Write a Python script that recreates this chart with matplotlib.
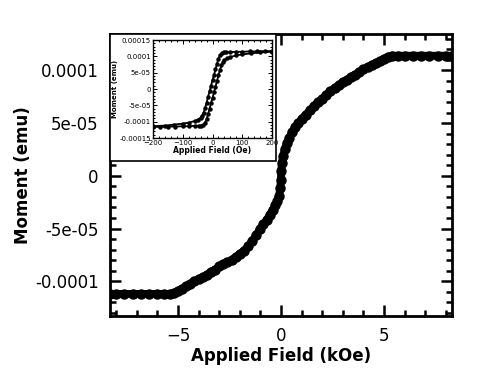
import numpy as np
import matplotlib.pyplot as plt
from matplotlib.ticker import MultipleLocator, FixedFormatter, FixedLocator
from matplotlib.patches import Rectangle

# main loop, field in kOe, moment in 1e-4 emu
field_main = [-8.3, -8.0, -7.6, -7.2, -6.8, -6.4, -6.0, -5.7, -5.4, -5.2, -5.0, -4.8, -4.6,
              -4.4, -4.2, -4.0, -3.8, -3.6, -3.4, -3.2, -3.0, -2.8, -2.6, -2.4, -2.2, -2.0,
              -1.8, -1.6, -1.4, -1.2, -1.0, -0.85, -0.7, -0.55, -0.4, -0.28, -0.18, -0.1,
              -0.04, -0.01, 0.01, 0.04, 0.1, 0.18, 0.28, 0.4, 0.55, 0.7, 0.85, 1.0, 1.2,
              1.4, 1.6, 1.8, 2.0, 2.2, 2.4, 2.6, 2.8, 3.0, 3.2, 3.4, 3.6, 3.8, 4.0, 4.2,
              4.4, 4.6, 4.8, 5.0, 5.2, 5.4, 5.7, 6.0, 6.4, 6.8, 7.2, 7.6, 8.0, 8.3]
moment_main = [-1.12, -1.12, -1.12, -1.12, -1.12, -1.12, -1.12, -1.12, -1.12, -1.11, -1.09,
               -1.07, -1.05, -1.03, -1.00, -0.98, -0.96, -0.94, -0.91, -0.89, -0.86, -0.84,
               -0.82, -0.80, -0.77, -0.74, -0.71, -0.67, -0.62, -0.56, -0.50, -0.46, -0.42,
               -0.37, -0.32, -0.28, -0.24, -0.19, -0.12, -0.04, 0.05, 0.12, 0.19, 0.25,
               0.31, 0.36, 0.42, 0.46, 0.50, 0.54, 0.58, 0.62, 0.66, 0.70, 0.73, 0.77, 0.80,
               0.83, 0.86, 0.89, 0.91, 0.94, 0.96, 0.98, 1.01, 1.03, 1.05, 1.07, 1.09, 1.11,
               1.13, 1.14, 1.14, 1.14, 1.14, 1.14, 1.14, 1.14, 1.14, 1.14]

# inset loop, field in Oe, moment in 1e-4 emu
field_down = [200, 175, 150, 125, 100, 80, 60, 45, 38, 32, 26, 20, 15, 10, 5, 0, -5, -10,
              -15, -20, -25, -30, -35, -40, -50, -60, -80, -100, -130, -160, -200]
moment_down = [1.16, 1.16, 1.15, 1.15, 1.14, 1.14, 1.13, 1.12, 1.12, 1.10, 1.05, 0.93, 0.78,
               0.60, 0.43, 0.27, 0.10, -0.07, -0.24, -0.42, -0.58, -0.72, -0.82, -0.88,
               -0.94, -0.98, -1.03, -1.06, -1.09, -1.12, -1.14]
field_up = [-f for f in field_down]
moment_up = [-m for m in moment_down]

main_yticks = [-1e-4, -5e-5, 0, 5e-5, 1e-4]
main_ylabels = ['-0.0001', '-5e-05', '0', '5e-05', '0.0001']
inset_yticks = [-1.5e-4, -1e-4, -5e-5, 0, 5e-5, 1e-4, 1.5e-4]
inset_ylabels = ['-0.00015', '-0.0001', '-5e-05', '0', '5e-05', '0.0001', '0.00015']

fig = plt.figure(figsize=(4.91, 3.75), dpi=100)
ax = fig.add_axes([0.224, 0.1573, 0.6965, 0.752])
ax.plot(field_main, np.array(moment_main) * 1e-4, color='black', lw=5.5,
        marker='o', ms=6.5, solid_capstyle='round')
ax.set_xlim(-8.3, 8.3)
ax.set_ylim(-1.33e-4, 1.345e-4)
ax.xaxis.set_major_locator(MultipleLocator(5))
ax.xaxis.set_minor_locator(MultipleLocator(1))
ax.yaxis.set_major_locator(FixedLocator(main_yticks))
ax.yaxis.set_major_formatter(FixedFormatter(main_ylabels))
ax.yaxis.set_minor_locator(MultipleLocator(1e-5))
ax.tick_params(which='both', direction='in', top=True, right=True, width=1.8)
ax.tick_params(which='major', length=8, labelsize=12, pad=8)
ax.tick_params(which='minor', length=4)
for s in ax.spines.values():
    s.set_linewidth(2)
ax.set_xlabel('Applied Field (kOe)', fontsize=12, fontweight='bold', labelpad=1)
ax.set_ylabel('Moment (emu)', fontsize=12, fontweight='bold', labelpad=2)

# white panel behind the inset
fig.patches.append(Rectangle((0.224, 0.5707), 0.338, 0.3387, transform=fig.transFigure,
                             facecolor='white', edgecolor='black', lw=1.2, zorder=5))

ins = fig.add_axes([0.3116, 0.632, 0.2424, 0.2613])
ins.set_zorder(6)
ins.plot(field_down, np.array(moment_down) * 1e-4, color='black', lw=1.3, marker='o', ms=2.2)
ins.plot(field_up, np.array(moment_up) * 1e-4, color='black', lw=1.3, marker='o', ms=2.2)
ins.set_xlim(-200, 200)
ins.set_ylim(-1.5e-4, 1.5e-4)
ins.xaxis.set_major_locator(MultipleLocator(100))
ins.xaxis.set_minor_locator(MultipleLocator(20))
ins.yaxis.set_major_locator(FixedLocator(inset_yticks))
ins.yaxis.set_major_formatter(FixedFormatter(inset_ylabels))
ins.yaxis.set_minor_locator(MultipleLocator(1e-5))
ins.tick_params(which='both', direction='in', top=True, right=True, width=0.7)
ins.tick_params(which='major', length=3, labelsize=5, pad=1.5)
ins.tick_params(which='minor', length=1.5)
for s in ins.spines.values():
    s.set_linewidth(1)
ins.set_xlabel('Applied Field (Oe)', fontsize=5.5, fontweight='bold', labelpad=0)
ins.set_ylabel('Moment (emu)', fontsize=5, fontweight='bold', labelpad=1)

fig.savefig('out.png', dpi=100)
